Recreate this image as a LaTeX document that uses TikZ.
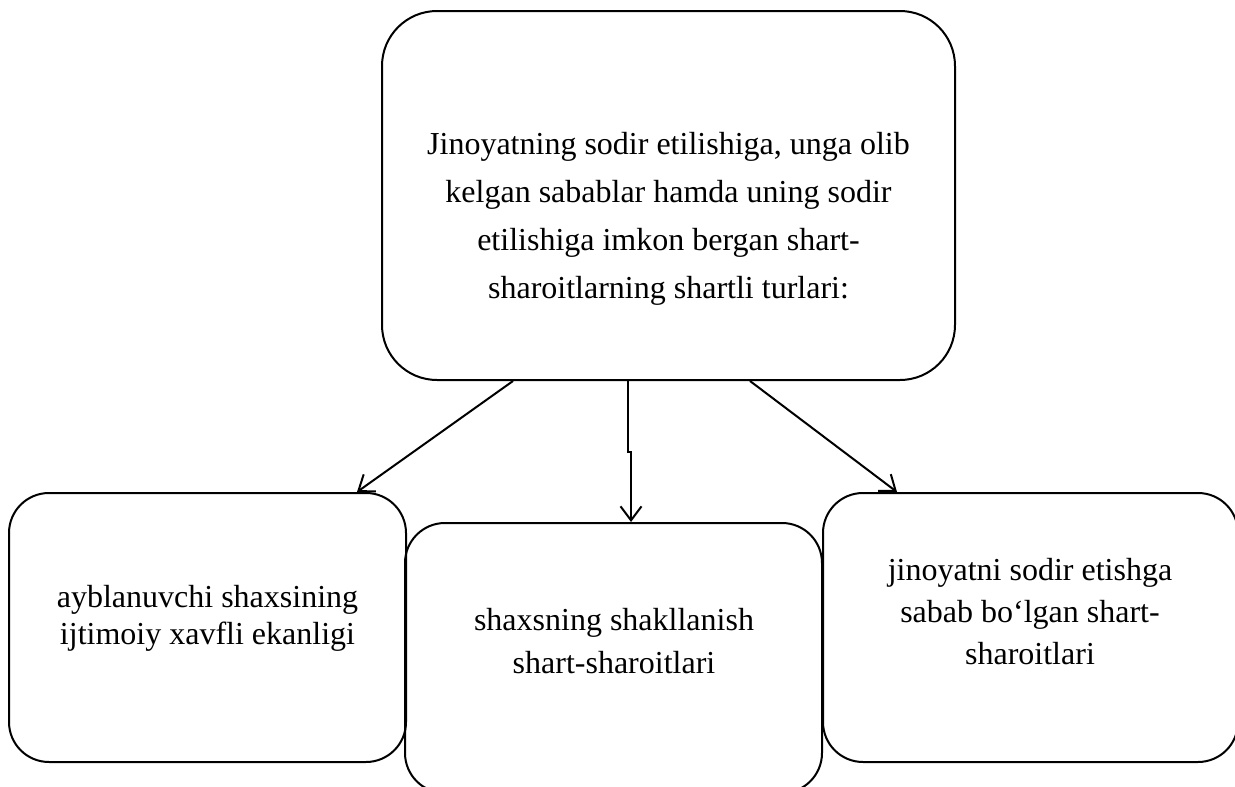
\documentclass[tikz,border=0pt]{standalone}
\usepackage{fontspec}
\setmainfont{Liberation Serif}
\usetikzlibrary{arrows.meta}

\tikzset{
  box/.style={draw, line width=2pt, rounded corners=40pt, inner sep=0pt},
  bigbox/.style={box, rounded corners=55pt},
  lbl/.style={align=center, inner sep=0pt},
  arr/.style={line width=2pt, -{Straight Barb[length=14pt,width=21pt,line width=2pt]}}
}

\begin{document}
\begin{tikzpicture}[x=1pt, y=-1pt]
  \useasboundingbox (0,0) rectangle (1235,787);

  % boxes
  \node[bigbox, minimum width=573pt, minimum height=369pt] (top) at (668.5,195.5) {};
  \node[box, minimum width=397pt, minimum height=269pt] (lbox) at (207.5,627.5) {};
  \node[box, minimum width=417pt, minimum height=270pt] (mbox) at (613.5,658) {};
  \node[box, minimum width=415pt, minimum height=269pt] (rbox) at (1030.5,627.5) {};

  % texts
  \node[lbl, font={\fontsize{32pt}{48pt}\selectfont}] (ttop) at (668.5,219)
    {Jinoyatning sodir etilishiga, unga olib\\kelgan sabablar hamda uning sodir\\etilishiga imkon bergan shart-\\sharoitlarning shartli turlari:};
  \node[lbl, font={\fontsize{32pt}{37pt}\selectfont}] (tl) at (207.5,618.5)
    {ayblanuvchi shaxsining\\ijtimoiy xavfli ekanligi};
  \node[lbl, font={\fontsize{32pt}{42.5pt}\selectfont}] (tm) at (614,641)
    {shaxsning shakllanish\\shart-sharoitlari};
  \node[lbl, font={\fontsize{32pt}{42pt}\selectfont}] (tr) at (1030,611.5)
    {jinoyatni sodir etishga\\sabab bo‘lgan shart-\\sharoitlari};

  % connectors
  \draw[arr] ([xshift=-155.5pt]top.south) -- ([xshift=149.5pt]lbox.north);
  \draw[arr] ([xshift=81.5pt]top.south) -- ([xshift=-133.5pt]rbox.north);
  \draw[arr] ([xshift=-40.5pt]top.south) -- ++(0,71) -- ++(3,0) -- ([xshift=17.5pt]mbox.north);
\end{tikzpicture}
\end{document}
